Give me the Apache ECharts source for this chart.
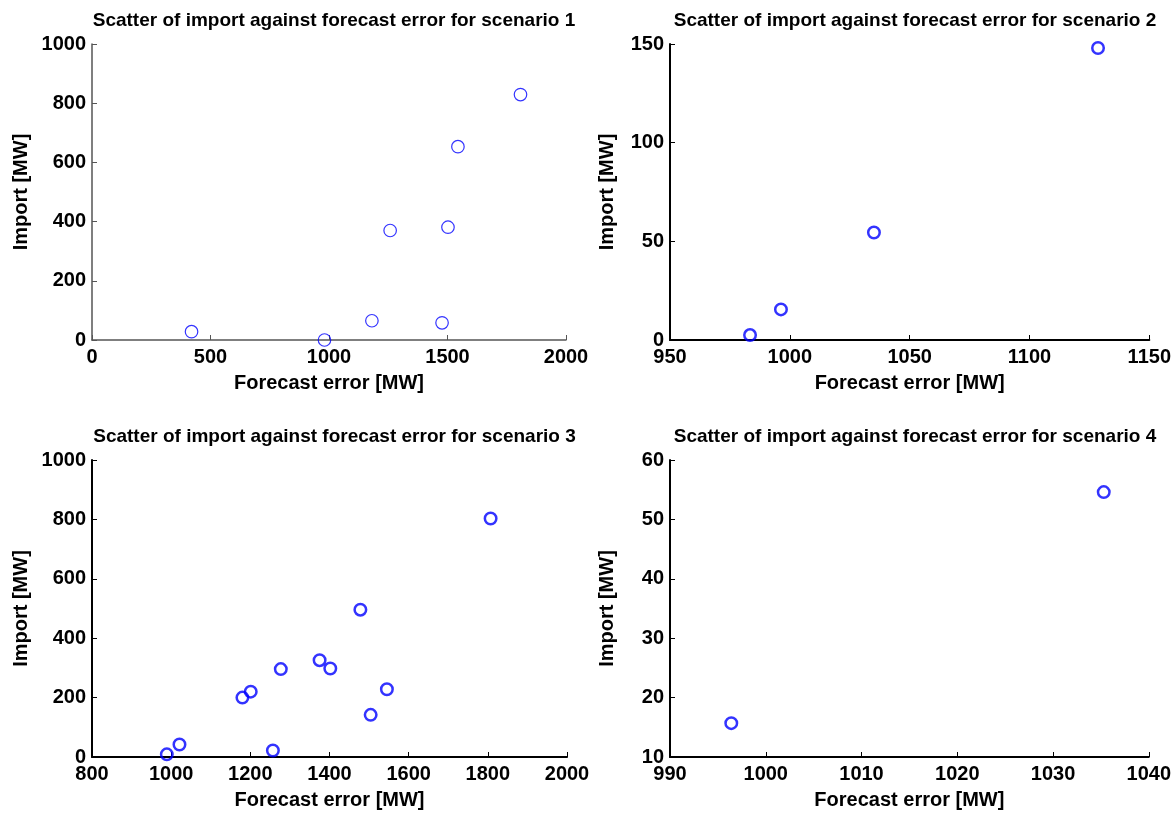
<!DOCTYPE html>
<html>
<head>
<meta charset="utf-8">
<script src="https://cdn.jsdelivr.net/npm/echarts@6/dist/echarts.min.js"></script>
<style>
    html, body { margin: 0; padding: 0; background: #fff; }
    #demo { width: 1174px; height: 814px; }
</style>
</head>
<body>
<div id="demo"></div>
<script>
/* ------------------------------------ 数据 ------------------------------------ */
let s1Error  = [420, 981, 1181, 1258, 1477, 1502, 1544, 1808];
let s1Import = [28, 0, 65, 370, 58, 381, 653, 829];

let s2Error  = [983.4, 996.3, 1035.1, 1128.6];
let s2Import = [2.5, 15.5, 54.5, 148];

let s3Error  = [989, 1021, 1180, 1201, 1257, 1277, 1375, 1402, 1478, 1504, 1545, 1807];
let s3Import = [9, 42, 200, 220, 22, 296, 326, 298, 496, 142, 228, 803];

let s4Error  = [996.4, 1035.3];
let s4Import = [15.7, 54.6];

let xTicks = [[0, 2000, 500], [950, 1150, 50], [800, 2000, 200], [990, 1040, 10]];   // min, max, interval
let yTicks = [[0, 1000, 200], [0, 150, 50], [0, 1000, 200], [10, 60, 10]];

let titles = [
    'Scatter of import against forecast error for scenario 1',
    'Scatter of import against forecast error for scenario 2',
    'Scatter of import against forecast error for scenario 3',
    'Scatter of import against forecast error for scenario 4'
];

/* ------------------------------------ 布局 ------------------------------------ */
let font = 'Liberation Sans';
let grids = [
    {left: 92,  top: 44,  width: 474, height: 296},
    {left: 670, top: 44,  width: 480, height: 296},
    {left: 92,  top: 460, width: 475, height: 297},
    {left: 670, top: 460, width: 480, height: 297}
];
// 第一张图线条细一些
let lineStyles = [
    {axis: '#555', axisWidth: 1.5, border: 1.2},
    {axis: '#000', axisWidth: 2, border: 2.5},
    {axis: '#000', axisWidth: 2, border: 2.5},
    {axis: '#000', axisWidth: 2, border: 2.5}
];

let pairs = function (xs, ys) {
    return xs.map(function (x, i) { return [x, ys[i]]; });
};
let allData = [
    pairs(s1Error, s1Import),
    pairs(s2Error, s2Import),
    pairs(s3Error, s3Import),
    pairs(s4Error, s4Import)
];

let axisCommon = function (i, t) {
    return {
        type: 'value',
        gridIndex: i,
        min: t[0],
        max: t[1],
        interval: t[2],
        nameLocation: 'middle',
        nameTextStyle: {fontFamily: font, fontWeight: 'bold', fontSize: 20, color: '#000'},
        axisLine: {show: true, lineStyle: {color: lineStyles[i].axis, width: lineStyles[i].axisWidth}},
        axisTick: {show: true, inside: true, length: 5, lineStyle: {color: lineStyles[i].axis, width: 1}},
        axisLabel: {
            fontFamily: font, fontWeight: 'bold', fontSize: 20, color: '#000',
            formatter: function (v) { return String(v); }       // 不要千位分隔符
        },
        splitLine: {show: false}
    };
};

let option = {
    animation: false,
    backgroundColor: '#fff',
    title: titles.map(function (t, i) {
        return {
            text: t,
            left: grids[i].left + grids[i].width / 2,
            top: grids[i].top - 38,
            textAlign: 'center',
            textStyle: {fontFamily: font, fontWeight: 'bold', fontSize: 19, color: '#000'}
        };
    }),
    grid: grids,
    xAxis: xTicks.map(function (t, i) {
        let a = axisCommon(i, t);
        a.name = 'Forecast error [MW]';
        a.nameGap = 33;
        a.axisLabel.margin = 7;
        return a;
    }),
    yAxis: yTicks.map(function (t, i) {
        let a = axisCommon(i, t);
        a.name = 'Import [MW]';
        a.nameGap = (i % 2 === 0) ? 61 : 53;
        a.axisLabel.margin = 6;
        return a;
    }),
    series: allData.map(function (d, i) {
        return {
            type: 'scatter',
            xAxisIndex: i,
            yAxisIndex: i,
            data: d,
            symbol: 'circle',
            symbolSize: i === 0 ? 12.5 : 11.5,
            clip: false,
            itemStyle: {color: 'rgba(0,0,0,0)', borderColor: '#0000ff', borderWidth: lineStyles[i].border}
        };
    })
};

let myChart = echarts.init(document.querySelector('#demo'));
myChart.setOption(option);
</script>
</body>
</html>
